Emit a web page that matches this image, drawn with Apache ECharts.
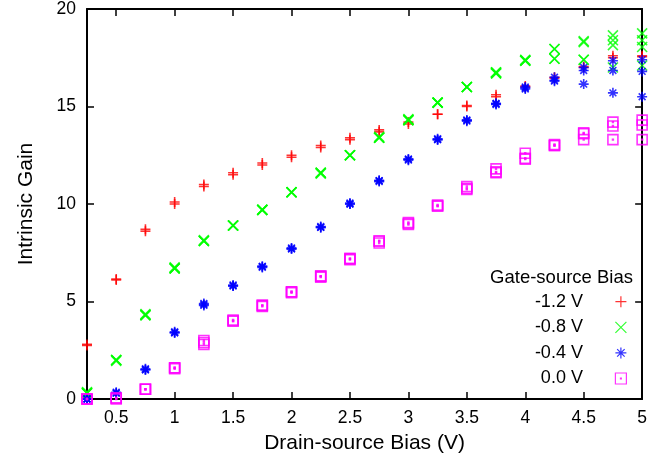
<!DOCTYPE html>
<html><head><meta charset="utf-8">
<script src="https://cdn.jsdelivr.net/npm/echarts@6/dist/echarts.min.js"></script>
<style>html,body{margin:0;padding:0;background:#fff}#c{width:650px;height:463px}</style>
</head><body><div id="c"></div>
<script>
// ---- data ----
const xValues = [0.25,0.5,0.75,1,1.25,1.5,1.75,2,2.25,2.5,2.75,3,3.25,3.5,3.75,4,4.25,4.5,4.75,5];
const xTickValues = [0.5,1,1.5,2,2.5,3,3.5,4,4.5,5];
const seriesNames = ['-1.2 V','-0.8 V','-0.4 V','0.0 V'];
const legendTitle = 'Gate-source Bias';
const xAxisTitle = 'Drain-source Bias (V)';
const yAxisTitle = 'Intrinsic Gain';

// -1.2 V
const red1 = [2.8,6.1,8.6,10.0,10.9,11.5,12.0,12.4,12.9,13.3,13.7,14.1,14.6,15.0,15.5,16.0,16.45,17.0,17.5,17.55];
const red2 = [2.75,6.15,8.7,10.1,11.0,11.6,12.1,12.5,13.0,13.4,13.8,14.2,14.6,15.05,15.6,16.05,16.5,17.05,17.6,17.6];
// -0.8 V
const green1 = [0.35,1.95,4.3,6.7,8.1,8.9,9.7,10.6,11.6,12.5,13.4,14.3,15.2,16.0,16.75,17.35,17.95,18.35,18.65,18.75];
const green2 = [0.3,2.0,4.35,6.75,8.15,8.9,9.7,10.6,11.55,12.5,13.45,14.35,15.2,16.0,16.75,17.4,17.45,17.4,18.4,18.4];
const green3 = [0.3,2.0,4.3,6.7,8.1,8.9,9.7,10.6,11.6,12.5,13.4,14.3,15.2,16.0,16.7,17.35,17.95,18.3,18.15,18.05];
const green4 = [0.3,2.0,4.3,6.7,8.1,8.9,9.7,10.6,11.6,12.5,13.4,14.3,15.2,16.0,16.7,17.35,17.45,17.4,17.0,17.1];
// -0.4 V
const blue1 = [0.0,0.35,1.5,3.4,4.9,5.8,6.8,7.7,8.8,10.0,11.15,12.25,13.3,14.3,15.15,15.95,16.5,17.0,17.35,17.4];
const blue2 = [0.0,0.3,1.55,3.4,4.8,5.85,6.75,7.75,8.85,10.0,11.2,12.3,13.35,14.25,15.1,16.0,16.3,16.85,16.85,16.8];
const blue3 = [0.0,0.3,1.5,3.45,4.85,5.8,6.8,7.7,8.8,10.05,11.2,12.3,13.3,14.3,15.15,15.9,16.35,16.15,15.7,15.5];
// 0.0 V
const mag1 = [0.0,0.05,0.5,1.6,3.0,4.05,4.8,5.5,6.3,7.2,8.1,9.05,9.95,10.9,11.8,12.6,13.05,13.65,14.2,14.3];
const mag2 = [0.0,0.05,0.5,1.55,2.8,4.0,4.75,5.45,6.3,7.15,8.0,8.95,9.9,10.75,11.6,12.35,13.0,13.6,14.0,14.05];
const mag3 = [0.0,0.0,0.5,1.6,2.9,4.0,4.8,5.5,6.25,7.2,8.1,9.0,9.9,10.8,11.65,12.3,13.0,13.3,13.3,13.3];

const runsBySeries = [[red1,red2],[green1,green2,green3,green4],[blue1,blue2,blue3],[mag1,mag2,mag3]];
const colors = ['#ff0000','#00ff00','#0000ff','#ff00ff'];
const symbols = [
  'path://M0,5L10,5M5,0L5,10',
  'path://M0,0L10,10M0,10L10,0',
  'path://M5,0L5,10M0,5L10,5M1.6,1.6L8.4,8.4M1.6,8.4L8.4,1.6',
  'path://M0,0L10,0L10,10L0,10ZM4.6,4.6L5.4,4.6L5.4,5.4L4.6,5.4Z'
];
const FONT = 'Liberation Sans, Arial, Helvetica, sans-serif';

function zip(runs){
  const out = [];
  runs.forEach(r => r.forEach((y,i) => out.push([xValues[i], y])));
  return out;
}

const chart = echarts.init(document.getElementById('c'), null, {renderer:'canvas'});
const axisLine = {show:true, onZero:false, lineStyle:{color:'#000', width:2}};
const tickStyle = {color:'#000', width:1.5};

chart.setOption({
  animation:false,
  backgroundColor:'#fff',
  grid:{left:87, right:7, top:7, bottom:64, containLabel:false},
  xAxis:[
    {type:'value', min:0.25, max:5, position:'bottom', axisLine,
     axisTick:{show:true, inside:true, length:7, customValues:xTickValues, lineStyle:tickStyle},
     axisLabel:{show:true, customValues:xTickValues, color:'#000', fontSize:17.5, fontFamily:FONT, margin:10},
     splitLine:{show:false},
     name:xAxisTitle, nameLocation:'middle', nameGap:34,
     nameTextStyle:{color:'#000', fontSize:21, fontFamily:FONT}},
    {type:'value', min:0.25, max:5, position:'top', axisLine,
     axisTick:{show:true, inside:true, length:7, customValues:xTickValues, lineStyle:tickStyle},
     axisLabel:{show:false}, splitLine:{show:false}}
  ],
  yAxis:[
    {type:'value', min:0, max:20, interval:5, position:'left', axisLine,
     axisTick:{show:true, inside:true, length:7, lineStyle:tickStyle},
     axisLabel:{show:true, color:'#000', fontSize:17.5, fontFamily:FONT, margin:11},
     splitLine:{show:false},
     name:yAxisTitle, nameLocation:'middle', nameGap:50,
     nameTextStyle:{color:'#000', fontSize:21, fontFamily:FONT}},
    {type:'value', min:0, max:20, interval:5, position:'right', axisLine,
     axisTick:{show:true, inside:true, length:7, lineStyle:tickStyle},
     axisLabel:{show:false}, splitLine:{show:false}}
  ],
  legend:{
    orient:'vertical', right:23, top:292.7, align:'right',
    itemWidth:66, itemHeight:11, itemGap:7.6, padding:0,
    selectedMode:false, data:seriesNames,
    itemStyle:{borderWidth:1.2},
    textStyle:{color:'#000', fontSize:18, fontFamily:FONT, lineHeight:18}
  },
  graphic:[{type:'text', x:633, y:278,
    style:{text:legendTitle, align:'right', verticalAlign:'middle', fill:'#000', fontSize:18.5, fontFamily:FONT}}],
  series: seriesNames.map((name, k) => ({
    name, type:'scatter', xAxisIndex:0, yAxisIndex:0,
    data: zip(runsBySeries[k]),
    symbol: symbols[k], symbolSize: 10, clip:false,
    itemStyle:{color:'transparent', borderColor:colors[k], borderWidth:1.6},
    emphasis:{disabled:true}
  }))
});
</script>
</body></html>
